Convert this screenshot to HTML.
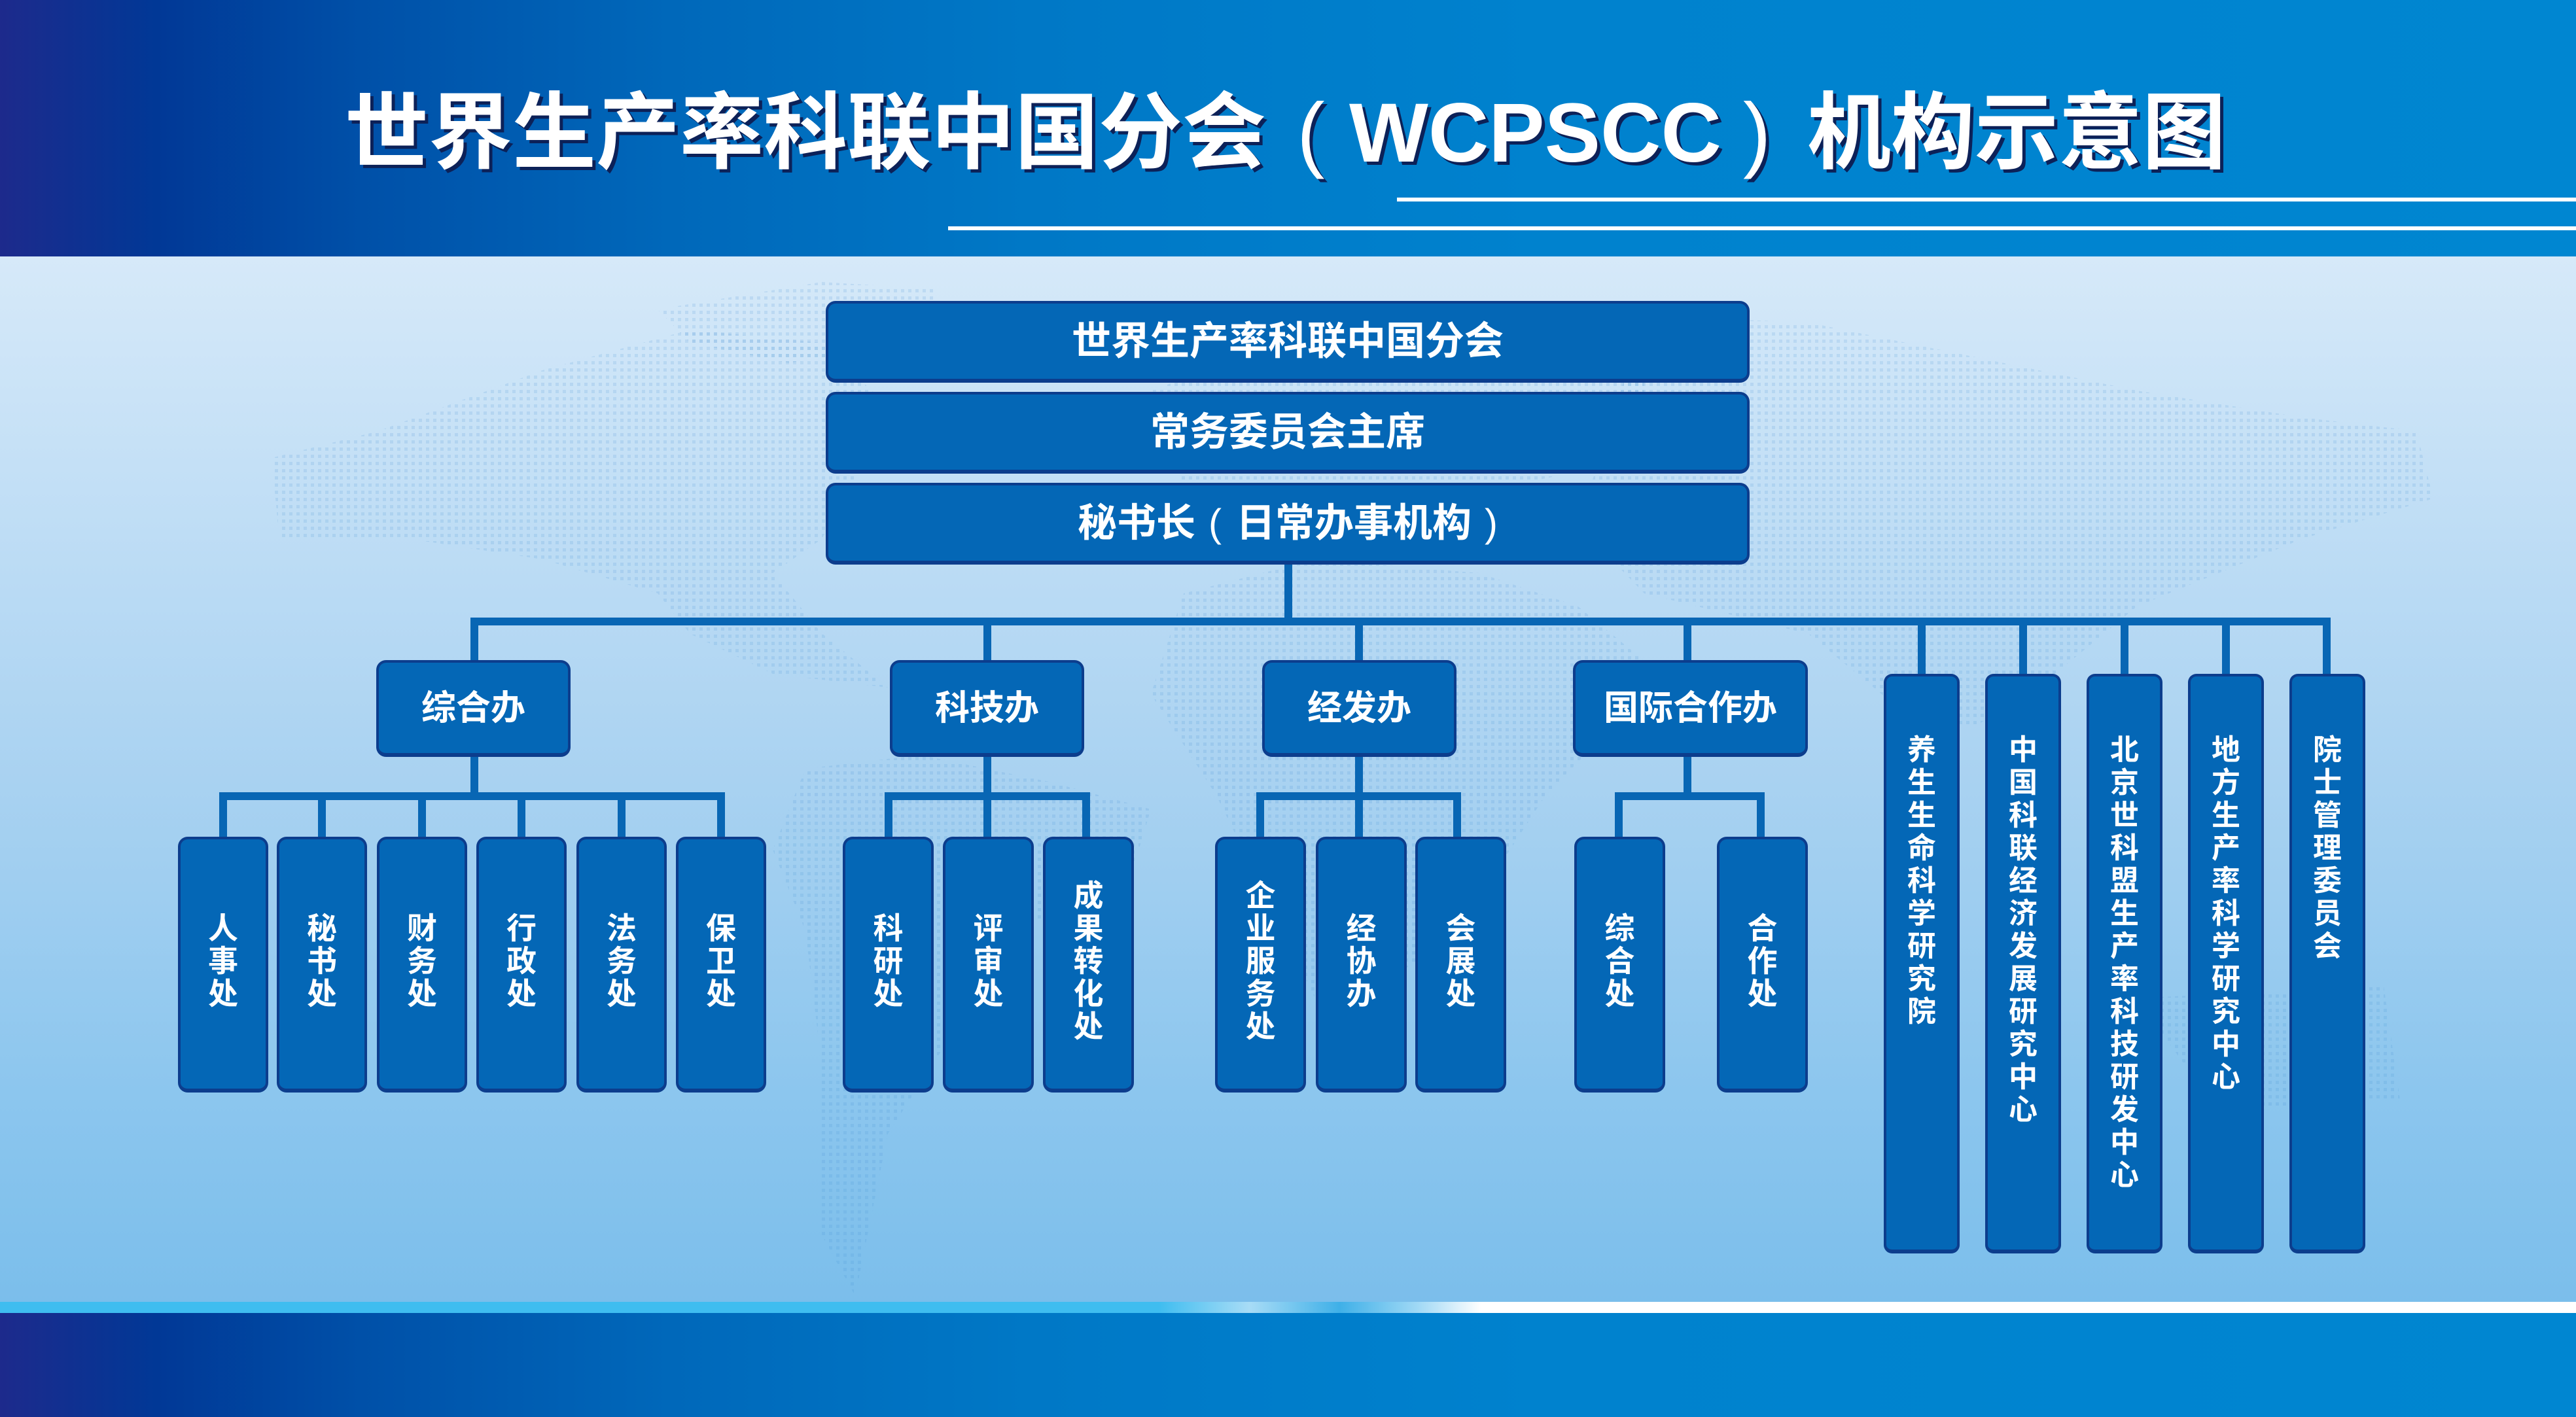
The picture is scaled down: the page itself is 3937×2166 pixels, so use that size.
<!DOCTYPE html>
<html><head><meta charset="utf-8">
<style>
*{margin:0;padding:0;box-sizing:border-box}
html,body{width:3937px;height:2166px;overflow:hidden}
body{position:relative;font-family:"Liberation Sans","Noto Sans CJK SC",sans-serif;font-weight:700;background:#a9d2f1}
.hdr{position:absolute;left:0;top:0;width:3937px;height:392px;background:linear-gradient(90deg,#1d2a8c 0%,#013896 6%,#0050a8 14%,#0068ba 26%,#0078c6 40%,#0082ce 60%,#0086d1 100%)}
.content{position:absolute;left:0;top:392px;width:3937px;height:1598px;background:linear-gradient(180deg,#d6e9f9 0%,#c4e0f6 20%,#a9d2f1 50%,#8cc6ee 80%,#7bbeeb 100%)}
.strip{position:absolute;left:0;top:1990px;width:3937px;height:17px;background:linear-gradient(90deg,#3fbdf0 0%,#3fbdf0 45%,#a8dcf6 48.5%,#3fb0e8 52%,#9fd8f5 55%,#ffffff 57.5%,#ffffff 100%)}
.ftr{position:absolute;left:0;top:2007px;width:3937px;height:159px;background:linear-gradient(90deg,#1d2a8c 0%,#013896 6%,#0050a8 14%,#0068ba 26%,#0078c6 40%,#0082ce 60%,#0086d1 100%)}
.wl{position:absolute;background:#fff}
.t{position:absolute;top:140px;color:#fff;font-size:128px;line-height:128px;white-space:nowrap;text-shadow:5px 5px 0 #0c2158}
.tp{font-weight:400}
.ln{position:absolute;background:#0866b4}
.b{position:absolute;background:#0467b6;border:4px solid #0c3d8d;border-bottom-width:6px;border-radius:15px;color:#fff;display:flex;align-items:center;justify-content:center;text-align:center;white-space:nowrap}
.top{font-size:60px;line-height:60px}
.l2{font-size:53px;line-height:53px}
.sub{font-size:46px;line-height:50px;padding-bottom:10px}
.tall{font-size:44px;line-height:50px;align-items:flex-start;padding-top:88px;border-radius:13px}
svg.map{position:absolute;left:0;top:0}
</style></head><body>
<div class="hdr"></div>
<div class="content"></div>
<svg class="map" width="3937" height="2166" viewBox="0 0 3937 2166">
<defs>
<pattern id="dots" x="0" y="0" width="11" height="11" patternUnits="userSpaceOnUse">
<rect x="2" y="2" width="5" height="5" fill="#3a86cc" fill-opacity="0.14"/>
</pattern>
</defs>
<g fill="url(#dots)">
<polygon points="415,700 578,659 829,566 1055,504 1256,524 1332,597 1407,659 1307,731 1256,824 1181,876 1256,968 1357,1051 1181,1030 1055,969 1005,907 829,855 628,824 427,824"/>
<polygon points="1005,473 1256,431 1432,442 1407,524 1206,555 1055,524"/>
<polygon points="1231,1175 1407,1154 1608,1196 1759,1237 1734,1320 1558,1423 1457,1578 1357,1733 1307,1981 1256,1888 1256,1630 1231,1423 1181,1299"/>
<polygon points="1759,597 1960,524 2211,493 2513,483 2513,700 2261,752 2010,803 1809,752"/>
<polygon points="1809,907 2010,855 2261,876 2412,927 2513,1010 2462,1113 2362,1216 2261,1371 2161,1475 2010,1526 1935,1371 1859,1216 1759,1061"/>
<polygon points="2513,483 2764,493 3015,545 3266,597 3518,638 3693,659 3719,762 3518,824 3266,927 3141,1030 3015,1113 2889,1072 2764,969 2513,907 2412,803"/>
<polygon points="3266,1526 3643,1506 3668,1681 3392,1702"/>
</g>
</svg>
<div class="strip"></div>
<div class="ftr"></div>

<div class="t" style="left:527px">世界生产率科联中国分会</div>
<div class="t tp" style="left:1982px">(</div>
<div class="t" style="left:2062px">WCPSCC</div>
<div class="t tp" style="left:2664px">)</div>
<div class="t" style="left:2762px">机构示意图</div>
<div class="wl" style="left:2135px;top:302px;width:1802px;height:6px"></div>
<div class="wl" style="left:1449px;top:346px;width:2488px;height:6px"></div>

<!-- connectors -->
<div class="ln" style="left:1963px;top:860px;width:12px;height:92px"></div>
<div class="ln" style="left:719px;top:944px;width:2843px;height:12px"></div>
<div class="ln" style="left:719px;top:944px;width:12px;height:70px"></div>
<div class="ln" style="left:1503px;top:944px;width:12px;height:70px"></div>
<div class="ln" style="left:2071px;top:944px;width:12px;height:70px"></div>
<div class="ln" style="left:2573px;top:944px;width:12px;height:70px"></div>
<div class="ln" style="left:719px;top:1150px;width:12px;height:70px"></div>
<div class="ln" style="left:1503px;top:1150px;width:12px;height:70px"></div>
<div class="ln" style="left:2071px;top:1150px;width:12px;height:70px"></div>
<div class="ln" style="left:2573px;top:1150px;width:12px;height:70px"></div>
<div class="ln" style="left:335px;top:1211px;width:773px;height:12px"></div>
<div class="ln" style="left:1352px;top:1211px;width:314px;height:12px"></div>
<div class="ln" style="left:1920px;top:1211px;width:313px;height:12px"></div>
<div class="ln" style="left:2468px;top:1211px;width:229px;height:12px"></div>
<div class="ln" style="left:335px;top:1211px;width:12px;height:72px"></div>
<div class="ln" style="left:486px;top:1211px;width:12px;height:72px"></div>
<div class="ln" style="left:639px;top:1211px;width:12px;height:72px"></div>
<div class="ln" style="left:791px;top:1211px;width:12px;height:72px"></div>
<div class="ln" style="left:944px;top:1211px;width:12px;height:72px"></div>
<div class="ln" style="left:1096px;top:1211px;width:12px;height:72px"></div>
<div class="ln" style="left:1352px;top:1211px;width:12px;height:72px"></div>
<div class="ln" style="left:1503px;top:1211px;width:12px;height:72px"></div>
<div class="ln" style="left:1654px;top:1211px;width:12px;height:72px"></div>
<div class="ln" style="left:1920px;top:1211px;width:12px;height:72px"></div>
<div class="ln" style="left:2071px;top:1211px;width:12px;height:72px"></div>
<div class="ln" style="left:2221px;top:1211px;width:12px;height:72px"></div>
<div class="ln" style="left:2468px;top:1211px;width:12px;height:72px"></div>
<div class="ln" style="left:2685px;top:1211px;width:12px;height:72px"></div>
<div class="ln" style="left:2931px;top:944px;width:12px;height:92px"></div>
<div class="ln" style="left:3086px;top:944px;width:12px;height:92px"></div>
<div class="ln" style="left:3241px;top:944px;width:12px;height:92px"></div>
<div class="ln" style="left:3396px;top:944px;width:12px;height:92px"></div>
<div class="ln" style="left:3550px;top:944px;width:12px;height:92px"></div>

<!-- top boxes -->
<div class="b top" style="left:1262px;top:460px;width:1412px;height:125px">世界生产率科联中国分会</div>
<div class="b top" style="left:1262px;top:599px;width:1412px;height:125px">常务委员会主席</div>
<div class="b top" style="left:1262px;top:738px;width:1412px;height:125px">秘书长<span style="font-weight:400;margin:0 22px 0 20px">(</span>日常办事机构<span style="font-weight:400;margin-left:20px">)</span></div>

<!-- level 2 -->
<div class="b l2" style="left:575px;top:1009px;width:297px;height:148px">综合办</div>
<div class="b l2" style="left:1360px;top:1009px;width:297px;height:148px">科技办</div>
<div class="b l2" style="left:1929px;top:1009px;width:297px;height:148px">经发办</div>
<div class="b l2" style="left:2404px;top:1009px;width:359px;height:148px">国际合作办</div>

<!-- subs 综合办 -->
<div class="b sub" style="left:272px;top:1279px;width:138px;height:391px">人<br>事<br>处</div>
<div class="b sub" style="left:423px;top:1279px;width:138px;height:391px">秘<br>书<br>处</div>
<div class="b sub" style="left:576px;top:1279px;width:138px;height:391px">财<br>务<br>处</div>
<div class="b sub" style="left:728px;top:1279px;width:138px;height:391px">行<br>政<br>处</div>
<div class="b sub" style="left:881px;top:1279px;width:138px;height:391px">法<br>务<br>处</div>
<div class="b sub" style="left:1033px;top:1279px;width:138px;height:391px">保<br>卫<br>处</div>
<!-- subs 科技办 -->
<div class="b sub" style="left:1288px;top:1279px;width:139px;height:391px">科<br>研<br>处</div>
<div class="b sub" style="left:1441px;top:1279px;width:139px;height:391px">评<br>审<br>处</div>
<div class="b sub" style="left:1594px;top:1279px;width:139px;height:391px">成<br>果<br>转<br>化<br>处</div>
<!-- subs 经发办 -->
<div class="b sub" style="left:1857px;top:1279px;width:139px;height:391px">企<br>业<br>服<br>务<br>处</div>
<div class="b sub" style="left:2011px;top:1279px;width:139px;height:391px">经<br>协<br>办</div>
<div class="b sub" style="left:2163px;top:1279px;width:139px;height:391px">会<br>展<br>处</div>
<!-- subs 国际 -->
<div class="b sub" style="left:2406px;top:1279px;width:139px;height:391px">综<br>合<br>处</div>
<div class="b sub" style="left:2624px;top:1279px;width:139px;height:391px">合<br>作<br>处</div>

<!-- tall boxes -->
<div class="b tall" style="left:2879px;top:1030px;width:116px;height:886px">养<br>生<br>生<br>命<br>科<br>学<br>研<br>究<br>院</div>
<div class="b tall" style="left:3034px;top:1030px;width:116px;height:886px">中<br>国<br>科<br>联<br>经<br>济<br>发<br>展<br>研<br>究<br>中<br>心</div>
<div class="b tall" style="left:3189px;top:1030px;width:116px;height:886px">北<br>京<br>世<br>科<br>盟<br>生<br>产<br>率<br>科<br>技<br>研<br>发<br>中<br>心</div>
<div class="b tall" style="left:3344px;top:1030px;width:116px;height:886px">地<br>方<br>生<br>产<br>率<br>科<br>学<br>研<br>究<br>中<br>心</div>
<div class="b tall" style="left:3499px;top:1030px;width:116px;height:886px">院<br>士<br>管<br>理<br>委<br>员<br>会</div>
</body></html>
